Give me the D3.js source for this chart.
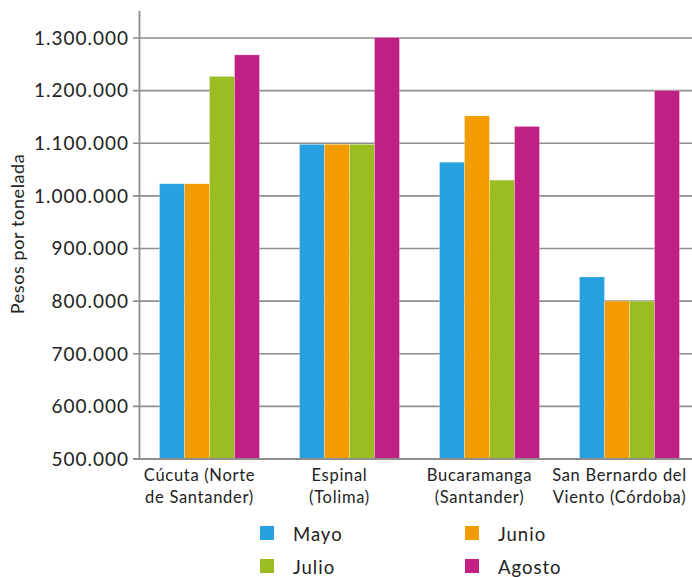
<!DOCTYPE html>
<html><head><meta charset="utf-8">
<script src="https://cdn.jsdelivr.net/npm/d3@7/dist/d3.min.js"></script>
<style>body{margin:0;background:#fff}svg{display:block}text{font-family:Lato,"Open Sans",sans-serif;fill:#222}</style>
</head><body><svg id="c" width="692" height="577"></svg>
<script>
const categories = [["Cúcuta (Norte","de Santander)"],["Espinal","(Tolima)"],["Bucaramanga","(Santander)"],["San Bernardo del","Viento (Córdoba)"]];
const months = ["Mayo","Junio","Julio","Agosto"];
const colors = ["#27a0e0","#f29c00","#9bbd22","#c02083"];
const mayo   = [1023000, 1098000, 1064000, 846000];
const junio  = [1023000, 1098000, 1152000, 800000];
const julio  = [1227000, 1098000, 1030000, 800000];
const agosto = [1268000, 1301000, 1132000, 1200000];
const yTicks = [500000,600000,700000,800000,900000,1000000,1100000,1200000,1300000];
const series = [mayo, junio, julio, agosto];

const W = 692, H = 577;
const svg = d3.select("#c");
const catIdx = categories.map((d,i)=>i);
const y = d3.scaleLinear().domain([500000,1300000]).range([459,38]);
const x0 = d3.scaleBand().domain(catIdx).range([139.5,699.5]).paddingInner(40/140).paddingOuter(20/140);
const x1 = d3.scaleBand().domain(months).range([0,x0.bandwidth()]);
const fmt = v => d3.format(",")(v).replace(/,/g,".");

// gridlines
svg.append("g").selectAll("line").data(yTicks).join("line")
  .attr("x1",133).attr("x2",W).attr("y1",d=>y(d)).attr("y2",d=>y(d))
  .attr("stroke","#8e8e8e").attr("stroke-width",1.6);

// bars
const g = svg.append("g");
catIdx.forEach(ci=>{
  months.forEach((m,mi)=>{
    const v = series[mi][ci];
    g.append("rect").attr("x",x0(ci)+x1(m)).attr("width",x1.bandwidth())
      .attr("y",y(v)).attr("height",y(500000)-y(v)).attr("fill",colors[mi])
      .attr("stroke","rgba(255,255,255,0.45)").attr("stroke-width",0.6);
  });
});

// axis lines
svg.append("line").attr("x1",139.5).attr("x2",139.5).attr("y1",y(1352000)).attr("y2",y(500000)+1)
  .attr("stroke","#8e8e8e").attr("stroke-width",1.8);
svg.append("line").attr("x1",133).attr("x2",W).attr("y1",y(500000)).attr("y2",y(500000))
  .attr("stroke","#8e8e8e").attr("stroke-width",1.8);

// y tick labels
svg.append("g").selectAll("text").data(yTicks).join("text")
  .attr("x",129).attr("y",d=>y(d)).attr("dy","0.36em").attr("text-anchor","end")
  .attr("font-size",19).attr("letter-spacing",1).text(fmt);

// y title
svg.append("text").attr("transform","translate(24,234) rotate(-90)").attr("text-anchor","middle")
  .attr("font-size",18).attr("letter-spacing",0.6).text("Pesos por tonelada");

// x labels
const xl = svg.append("g");
catIdx.forEach(ci=>{
  const t = xl.append("text").attr("text-anchor","middle").attr("font-size",16.5).attr("letter-spacing",0.7);
  categories[ci].forEach((line,li)=>{
    t.append("tspan").attr("x",x0(ci)+x0.bandwidth()/2-10).attr("y",481+li*22).text(line);
  });
});

// legend
const legX = [260,465], legY = [526,559];
months.forEach((m,i)=>{
  const lx = legX[i%2], ly = legY[Math.floor(i/2)];
  svg.append("rect").attr("x",lx).attr("y",ly).attr("width",14).attr("height",14).attr("fill",colors[i]);
  svg.append("text").attr("x",lx+33).attr("y",ly+15).attr("font-size",18.5).attr("letter-spacing",1).text(m);
});
</script></body></html>
